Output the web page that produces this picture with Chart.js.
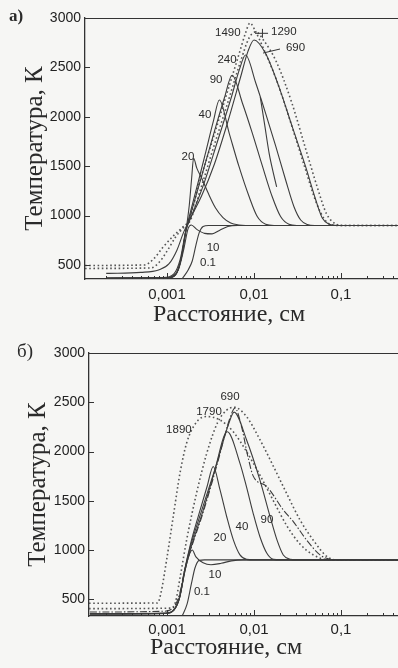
<!DOCTYPE html>
<html><head><meta charset="utf-8">
<script src="https://cdn.jsdelivr.net/npm/chart.js@4.4.1/dist/chart.umd.min.js"></script>
<style>
html,body{margin:0;padding:0;background:#f6f6f4;overflow:hidden;width:398px;height:668px;}
.panel{position:absolute;left:0;width:398px;height:334px;}
#pa{top:0}
#pb{top:334px}
</style></head><body>
<div class="panel" id="pa"><canvas id="ca" width="398" height="334"></canvas></div>
<div class="panel" id="pb"><canvas id="cb" width="398" height="334"></canvas></div>
<script>
// ---------- DATA (x in cm, T in K) ----------
// Panel a
const a_t01  = [[1.5e-3,362],[1.75e-3,450],[1.95e-3,540],[2.15e-3,700],[2.35e-3,830],[2.6e-3,890],[3.0e-3,900],[0.452,900]];
const a_t10  = [[2e-4,365],[9e-4,367],[1.15e-3,385],[1.35e-3,450],[1.55e-3,650],[1.75e-3,870],[1.9e-3,905],[2.2e-3,860],[2.7e-3,820],[3.3e-3,815],[4.0e-3,850],[5.0e-3,890],[6.5e-3,900],[0.452,900]];
const a_t20  = [[2e-4,365],[1.0e-3,368],[1.25e-3,400],[1.45e-3,560],[1.65e-3,850],[1.8e-3,1100],[1.92e-3,1380],[2.02e-3,1580],[2.2e-3,1480],[2.5e-3,1380],[3.0e-3,1220],[3.6e-3,1080],[4.4e-3,980],[5.4e-3,925],[6.7e-3,905],[8e-3,900],[0.452,900]];
const a_t40  = [[2e-4,365],[1.0e-3,368],[1.25e-3,400],[1.45e-3,560],[1.65e-3,850],[1.85e-3,1030],[2.3e-3,1350],[2.8e-3,1650],[3.4e-3,1950],[4.0e-3,2170],[5.2e-3,1830],[6.7e-3,1500],[8.8e-3,1190],[0.0109,990],[0.0136,912],[0.017,900],[0.452,900]];
const a_t90  = [[2e-4,365],[1.0e-3,368],[1.25e-3,400],[1.45e-3,560],[1.65e-3,850],[1.85e-3,1000],[2.5e-3,1400],[3.5e-3,1850],[4.6e-3,2200],[5.6e-3,2420],[7.35e-3,2140],[9.6e-3,1830],[0.0125,1500],[0.0162,1190],[0.0202,990],[0.0252,912],[0.031,900],[0.452,900]];
const a_t240 = [[2e-4,368],[9e-4,372],[1.2e-3,410],[1.42e-3,560],[1.65e-3,850],[1.9e-3,990],[2.6e-3,1300],[3.8e-3,1750],[5.5e-3,2200],[6.8e-3,2480],[8.0e-3,2625],[0.0105,2340],[0.0136,2035],[0.0178,1700],[0.0231,1360],[0.0288,1090],[0.0344,955],[0.041,910],[0.05,900],[0.452,900]];
const a_t690 = [[2e-4,415],[5e-4,425],[8e-4,450],[1.05e-3,510],[1.3e-3,650],[1.55e-3,830],[1.8e-3,950],[2.5e-3,1200],[3.5e-3,1520],[5e-3,1950],[7e-3,2400],[8.5e-3,2660],[0.01,2777],[0.0136,2640],[0.0194,2300],[0.0275,1900],[0.0392,1495],[0.0512,1160],[0.0609,975],[0.0727,912],[0.09,900],[0.452,900]];
const a_t1290 = [[1.141e-4,465],[6.5e-4,470],[8e-4,520],[1.0e-3,640],[1.25e-3,780],[1.55e-3,880],[1.85e-3,950],[2.4e-3,1250],[3.4e-3,1680],[4.9e-3,2120],[7.0e-3,2560],[8.8e-3,2800],[0.0105,2860],[0.013,2770],[0.018,2560],[0.027,2150],[0.04,1650],[0.055,1250],[0.068,1020],[0.085,920],[0.105,900],[0.452,900]];
const a_t1490 = [[1.141e-4,495],[5.5e-4,500],[7e-4,560],[9e-4,680],[1.2e-3,800],[1.5e-3,880],[1.8e-3,960],[2.3e-3,1300],[3.3e-3,1750],[4.7e-3,2190],[6.7e-3,2630],[8.0e-3,2850],[9.0e-3,2950],[0.0102,2880],[0.013,2680],[0.018,2380],[0.026,1960],[0.038,1500],[0.052,1130],[0.065,960],[0.08,905],[0.1,900],[0.452,900]];
const a_piece = [[0.0118,2200],[0.0132,1930],[0.015,1620],[0.0168,1420],[0.0182,1290]];
// Panel b
const b_t01  = [[1.5e-3,335],[1.7e-3,450],[1.9e-3,650],[2.1e-3,820],[2.35e-3,895],[2.7e-3,900],[0.452,900]];
const b_t10  = [[1.3e-4,350],[9.5e-4,355],[1.2e-3,390],[1.4e-3,520],[1.6e-3,780],[1.8e-3,950],[1.95e-3,1000],[2.15e-3,930],[2.6e-3,870],[3.2e-3,850],[4.2e-3,865],[5.5e-3,890],[7.5e-3,900],[0.452,900]];
const b_t20  = [[1.3e-4,350],[9.5e-4,355],[1.2e-3,390],[1.4e-3,520],[1.6e-3,800],[1.85e-3,1050],[2.3e-3,1350],[2.9e-3,1650],[3.4e-3,1847],[4.07e-3,1610],[4.85e-3,1340],[5.8e-3,1100],[6.9e-3,950],[8.2e-3,905],[0.01,900],[0.452,900]];
const b_t40  = [[1.3e-4,352],[9.5e-4,357],[1.2e-3,392],[1.4e-3,525],[1.6e-3,800],[1.85e-3,1030],[2.5e-3,1400],[3.5e-3,1800],[4.93e-3,2200],[6.9e-3,1880],[8.2e-3,1640],[9.8e-3,1370],[0.0117,1135],[0.014,970],[0.0167,905],[0.02,900],[0.452,900]];
const b_t90  = [[1.3e-4,354],[9.5e-4,360],[1.2e-3,395],[1.4e-3,530],[1.6e-3,780],[1.85e-3,1000],[2.6e-3,1400],[3.8e-3,1900],[5.2e-3,2300],[5.9e-3,2400],[8.2e-3,2120],[0.0117,1710],[0.0153,1340],[0.0184,1100],[0.0217,950],[0.026,905],[0.031,900],[0.452,900]];
const b_t690 = [[1.3e-4,370],[9e-4,378],[1.2e-3,420],[1.4e-3,560],[1.6e-3,800],[1.85e-3,990],[2.6e-3,1380],[3.8e-3,1880],[5.2e-3,2320],[6.05e-3,2440],[7.2e-3,2250],[8.5e-3,1950],[9.8e-3,1750],[0.014,1645],[0.0217,1407],[0.0283,1288],[0.0403,1100],[0.0574,950],[0.075,905],[0.09,900],[0.452,900]];
const b_t1790 = [[1.269e-4,405],[1.1e-3,410],[1.25e-3,470],[1.4e-3,700],[1.68e-3,1100],[2.19e-3,1580],[2.86e-3,1980],[3.8e-3,2290],[4.85e-3,2420],[5.9e-3,2450],[8.2e-3,2355],[0.0117,2120],[0.0167,1850],[0.0237,1575],[0.0338,1305],[0.048,1100],[0.0686,935],[0.089,900],[0.452,900]];
const b_t1890 = [[1.269e-4,460],[7.8e-4,462],[8.5e-4,560],[9.9e-4,900],[1.18e-3,1340],[1.41e-3,1780],[1.68e-3,2085],[2.19e-3,2300],[2.86e-3,2355],[4.07e-3,2320],[5.78e-3,2200],[8.2e-3,2000],[0.0117,1760],[0.0167,1500],[0.0237,1250],[0.0338,1060],[0.048,950],[0.065,905],[0.08,900],[0.452,900]];

// Tick values and labels
const xTickValues = [0.001, 0.01, 0.1];
const xTickLabels = ['0,001', '0,01', '0,1'];
const yTickValues = [500, 1000, 1500, 2000, 2500, 3000];
const yTickLabels = ['500', '1000', '1500', '2000', '2500', '3000'];

// Curve names (times)
const seriesNamesA = ['0.1','10','20','40','90','240','690','1290','1490',''];
const seriesNamesB = ['0.1','10','20','40','90','690','1790','1890'];

// ---------- STYLE / LAYOUT ----------
const INK = '#333';
const SOLID = {borderColor:'#3c3c3c', borderWidth:1.1};
const DOT = {borderColor:'#555', borderWidth:1.6, borderDash:[1.6,2.6]};
const DASHDOT = {borderColor:'#3c3c3c', borderWidth:1.1, borderDash:[7,2,1.5,2]};

const panelA = {
  canvas:'ca', left:85, top:18, bottom:279, H:334, xPad:7,
  xmin:1.141e-4, xmax:0.452, ymin:358, ymax:3000,
  xTitleX:229, xTitleY:315, yTitlePad:20,
  tag:'а)', tagX:9, tagY:17, tagFont:'bold 17px "Liberation Serif"',
  series:[a_t01,a_t10,a_t20,a_t40,a_t90,a_t240,a_t690,a_t1290,a_t1490,a_piece],
  names:seriesNamesA,
  styles:[SOLID,SOLID,SOLID,SOLID,SOLID,SOLID,SOLID,DOT,DOT,SOLID],
  notes:[
    {t:'0.1', x:2.96e-3, y:520},{t:'10', x:3.38e-3, y:672},{t:'20', x:1.74e-3, y:1593},
    {t:'40', x:2.73e-3, y:2018},{t:'90', x:3.66e-3, y:2372},{t:'240', x:4.9e-3, y:2575},
    {t:'1490', x:5.0e-3, y:2850},{t:'1290', x:0.022, y:2860},{t:'690', x:0.030, y:2700}
  ],
  leaders:[[[0.01027,2845],[0.0145,2845]],[[0.0125,2800],[0.0125,2890]],[[0.0127,2645],[0.0199,2686]]]
};
const panelB = {
  canvas:'cb', left:89, top:19, bottom:282, H:334, xPad:5,
  xmin:1.269e-4, xmax:0.452, ymin:330, ymax:3000,
  xTitleX:226, xTitleY:314, yTitlePad:23,
  tag:'б)', tagX:17, tagY:18, tagFont:'19px "Liberation Serif"',
  series:[b_t01,b_t10,b_t20,b_t40,b_t90,b_t690,b_t1790,b_t1890],
  names:seriesNamesB,
  styles:[SOLID,SOLID,SOLID,SOLID,SOLID,DASHDOT,DOT,DOT],
  notes:[
    {t:'0.1', x:2.52e-3, y:574},{t:'10', x:3.56e-3, y:747},{t:'20', x:4.06e-3, y:1123},
    {t:'40', x:7.28e-3, y:1235},{t:'90', x:0.0141, y:1306},{t:'690', x:5.3e-3, y:2556},
    {t:'1790', x:3.04e-3, y:2404},{t:'1890', x:1.37e-3, y:2221}
  ],
  leaders:[]
};

const decor = {
  id:'decor',
  afterDraw(chart, args, o){
    const {ctx, chartArea:{left,right,top,bottom}, scales:{x,y}} = chart;
    ctx.save();
    ctx.strokeStyle = INK; ctx.lineWidth = 1.2;
    ctx.beginPath(); ctx.moveTo(left, top+0.5); ctx.lineTo(right, top+0.5); ctx.stroke();
    ctx.lineWidth = 1; ctx.beginPath();
    yTickValues.forEach(v=>{const py=Math.round(y.getPixelForValue(v))+0.5; ctx.moveTo(left,py); ctx.lineTo(left+5,py);});
    for (let e=-4; e<=0; e++){
      for (let m=1; m<10; m++){
        const v = m*Math.pow(10,e);
        if (v < x.min || v > x.max) continue;
        const px = Math.round(x.getPixelForValue(v))+0.5;
        const len = m===1 ? 6 : 3;
        ctx.moveTo(px,bottom); ctx.lineTo(px,bottom-len);
      }
    }
    ctx.stroke();
    // leaders
    ctx.beginPath();
    o.leaders.forEach(seg=>{
      ctx.moveTo(x.getPixelForValue(seg[0][0]), y.getPixelForValue(seg[0][1]));
      ctx.lineTo(x.getPixelForValue(seg[1][0]), y.getPixelForValue(seg[1][1]));
    });
    ctx.stroke();
    // curve labels
    ctx.fillStyle = '#2a2a2a';
    ctx.font = '11.5px "Liberation Sans"';
    ctx.textAlign = 'center'; ctx.textBaseline = 'middle';
    o.notes.forEach(n=>ctx.fillText(n.t, x.getPixelForValue(n.x), y.getPixelForValue(n.y)));
    // x title
    ctx.font = '24px "Liberation Serif"';
    ctx.fillText('Расстояние, см', o.xTitleX, o.xTitleY);
    // panel tag
    ctx.textAlign = 'left';
    ctx.font = o.tagFont;
    ctx.fillText(o.tag, o.tagX, o.tagY);
    ctx.restore();
  }
};

function build(p){
  const datasets = p.series.map((s,i)=>Object.assign({
    label: p.names[i],
    data: s.map(([xv,yv])=>({x:xv,y:yv})),
    pointRadius:0, fill:false, cubicInterpolationMode:'monotone'
  }, p.styles[i]));
  new Chart(document.getElementById(p.canvas), {
    type:'line',
    data:{datasets},
    options:{
      responsive:false, animation:false, devicePixelRatio:1,
      layout:{padding:{top:p.top,left:0,right:0,bottom:0}},
      plugins:{legend:{display:false}, tooltip:{enabled:false}, decor:p},
      scales:{
        x:{
          type:'logarithmic', min:p.xmin, max:p.xmax,
          afterBuildTicks:(ax)=>{ax.ticks = xTickValues.map(v=>({value:v}));},
          afterFit:(ax)=>{ax.height = p.H - p.bottom;},
          grid:{display:true, drawOnChartArea:false, drawTicks:false},
          border:{display:true, color:INK, width:1.3},
          ticks:{color:'#222', font:{family:'Liberation Sans', size:15}, padding:p.xPad, maxRotation:0, autoSkip:false,
                 callback:(v)=>{const i=xTickValues.findIndex(t=>Math.abs(t-v)/t<1e-6); return i>=0?xTickLabels[i]:'';}}
        },
        y:{
          type:'linear', min:p.ymin, max:p.ymax,
          afterBuildTicks:(ax)=>{ax.ticks = yTickValues.map(v=>({value:v}));},
          afterFit:(ax)=>{ax.width = p.left;},
          grid:{display:true, drawOnChartArea:false, drawTicks:false},
          border:{display:true, color:INK, width:1.3},
          ticks:{color:'#222', font:{family:'Liberation Sans', size:14}, padding:4,
                 callback:(v)=>{const i=yTickValues.indexOf(v); return i>=0?yTickLabels[i]:'';}},
          title:{display:true, text:'Температура, К', color:'#2a2a2a',
                 font:{family:'Liberation Serif', size:25}, padding:{top:p.yTitlePad, bottom:0}}
        }
      }
    },
    plugins:[decor]
  });
}
build(panelA);
build(panelB);
</script>
</body></html>
